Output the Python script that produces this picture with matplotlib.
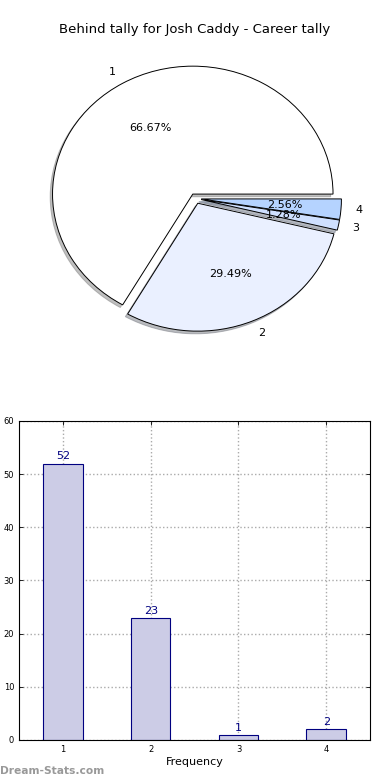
import matplotlib
matplotlib.use('Agg')
import matplotlib.pyplot as plt

# ── data ────────────────────────────────────────────────────
categories = ['1', '2', '3', '4']
counts     = [52, 23, 1, 2]
positions  = [1, 2, 3, 4]

pie_colors = ['#ffffff', '#eaf0ff', '#cfe0ff', '#b5d3ff']

fig = plt.figure(figsize=(3.9, 7.8), dpi=100)

# ── pie ─────────────────────────────────────────────────────
ax1 = fig.add_axes([0.052, 0.5405, 0.899, 0.41])
ax1.pie(counts, labels=categories, colors=pie_colors, autopct='%1.2f%%',
        explode=[0.04] * len(counts),
        shadow=dict(ox=-0.012, oy=-0.015, shade=0.5), startangle=0,
        wedgeprops=dict(edgecolor='black', linewidth=0.7),
        textprops=dict(fontsize=8))
ax1.set_aspect('auto')
fig.text(0.5, 0.962, 'Behind tally for Josh Caddy - Career tally',
         ha='center', va='center', fontsize=9.5)

# ── bar chart ───────────────────────────────────────────────
ax2 = fig.add_axes([0.049, 0.0513, 0.9, 0.409])
bars = ax2.bar(positions, counts, width=0.45, color='#ccccE6',
               edgecolor='#000080', linewidth=0.8, zorder=2)
for bar, c in zip(bars, counts):
    ax2.text(bar.get_x() + bar.get_width() / 2, bar.get_height() + 0.4,
             str(c), ha='center', va='bottom', fontsize=8, color='#000080')

ax2.set_xlim(0.5, 4.5)
ax2.set_ylim(0, 60)
ax2.set_xticks(positions)
ax2.set_xticklabels(categories)
ax2.set_yticks(range(0, 61, 10))
ax2.tick_params(direction='in', labelsize=6, top=True, right=True,
                length=3, width=0.6)
ax2.grid(True, linestyle=':', color='#aaaaaa', linewidth=1, zorder=0)
ax2.set_axisbelow(True)
ax2.set_xlabel('Frequency', fontsize=8, labelpad=2)

fig.text(0.0, 0.012, 'Dream-Stats.com', fontsize=7.7, color='#999999',
         fontweight='bold', ha='left', va='center')

plt.savefig('out.png', dpi=100)
